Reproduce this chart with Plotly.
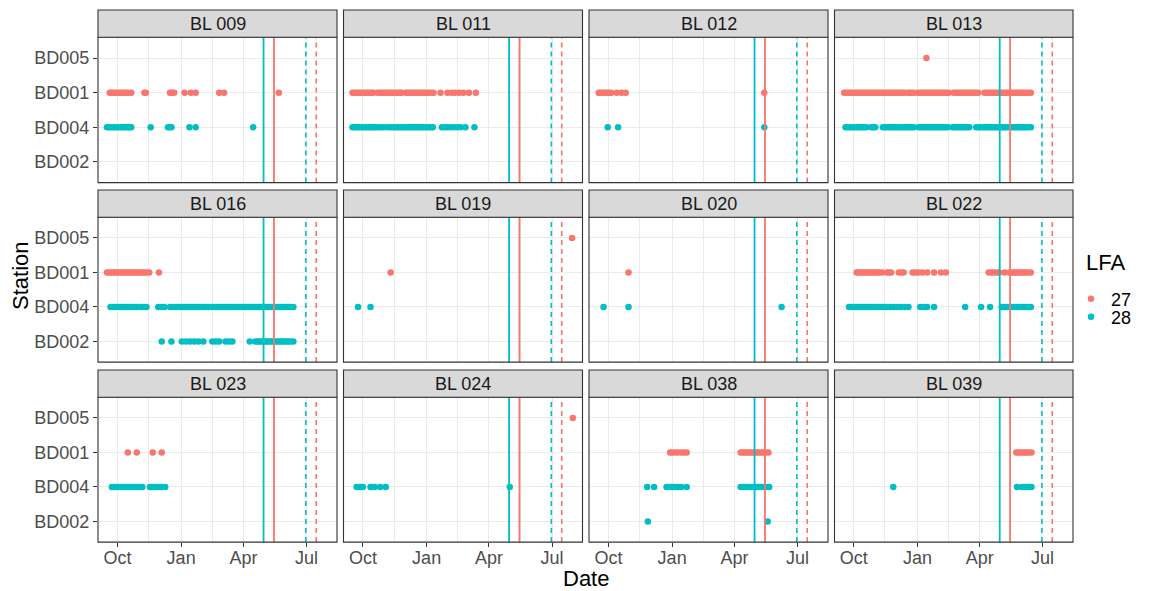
import plotly.graph_objects as go

W, H = 1152, 591
RED = "#F8766D"
TEAL = "#00BFC4"
FONT = "Liberation Sans, Arial, Helvetica, sans-serif"

panels = ["BL 009", "BL 011", "BL 012", "BL 013",
          "BL 016", "BL 019", "BL 020", "BL 022",
          "BL 023", "BL 024", "BL 038", "BL 039"]
stations = ["BD002", "BD004", "BD001", "BD005"]   # bottom -> top
lfa_levels = ["27", "28"]
lfa_colors = {"27": RED, "28": TEAL}

# season lines per LFA (solid = open, dashed = close)
season_lfa = ["28", "27"]
season_open = ["2021-04-30", "2021-05-15"]
season_close = ["2021-06-30", "2021-07-15"]

x_tick_vals = ["2020-10-01", "2021-01-01", "2021-04-01", "2021-07-01"]
x_tick_text = ["Oct", "Jan", "Apr", "Jul"]
x_minor_vals = ["2020-11-15", "2021-02-15", "2021-05-16"]
x_range = ["2020-09-03", "2021-08-14"]

# detection dates as MM-DD (Sep-Dec = 2020, Jan-Aug = 2021)
bl009_27_BD001 = ["09-20", "09-23", "09-26", "09-29", "10-02", "10-05", "10-08", "10-11", "10-14",
                  "10-17", "10-21", "11-09", "11-11", "12-16", "12-19", "12-22", "01-06", "01-15",
                  "01-22", "02-25", "03-04", "05-22"]
bl009_28_BD004 = ["09-16", "09-19", "09-22", "09-25", "09-28", "10-01", "10-04", "10-07", "10-10",
                  "10-13", "10-16", "10-19", "10-21", "11-18", "12-13", "12-16", "12-18", "01-13",
                  "01-22", "04-15"]

bl011_27_BD001 = ["09-16", "09-19", "09-22", "09-25", "09-28", "10-01", "10-04", "10-07", "10-10",
                  "10-13", "10-16", "10-22", "10-25", "10-28", "10-31", "11-03", "11-06", "11-09",
                  "11-12", "11-15", "11-18", "11-21", "11-24", "11-26", "12-02", "12-05", "12-08",
                  "12-11", "12-14", "12-17", "12-20", "12-23", "12-26", "12-29", "01-01", "01-04",
                  "01-07", "01-11", "01-21", "01-31", "02-06", "02-11", "02-17", "02-23", "03-03",
                  "03-13"]
bl011_28_BD004 = ["09-16", "09-19", "09-22", "09-25", "09-28", "10-01", "10-04", "10-07", "10-10",
                  "10-13", "10-16", "10-18", "10-22", "10-26", "10-30", "11-04", "11-09", "11-12",
                  "11-15", "11-18", "11-21", "11-24", "11-27", "11-30", "12-03", "12-06", "12-09",
                  "12-12", "12-15", "12-18", "12-21", "12-24", "12-27", "12-30", "01-02", "01-05",
                  "01-08", "01-10", "01-23", "01-27", "01-31", "02-04", "02-09", "02-14", "02-19",
                  "02-26", "03-11"]

bl012_27_BD001 = ["09-17", "09-20", "09-23", "09-26", "09-29", "10-02", "10-05", "10-13", "10-20",
                  "10-26", "05-14"]
bl012_28_BD004 = ["09-30", "10-15", "05-14"]

bl013_27_BD005 = ["01-14"]
bl013_27_BD001 = ["09-17", "09-20", "09-23", "09-26", "09-29", "10-02", "10-05", "10-08", "10-11",
                  "10-14", "10-17", "10-20", "10-23", "10-26", "10-29", "11-01", "11-04", "11-07",
                  "11-10", "11-13", "11-16", "11-19", "11-22", "11-25", "11-28", "12-01", "12-04",
                  "12-07", "12-10", "12-13", "12-18", "12-21", "12-24", "12-27", "01-01", "01-04",
                  "01-07", "01-10", "01-13", "01-16", "01-19", "01-22", "01-25", "01-28", "01-31",
                  "02-03", "02-06", "02-09", "02-12", "02-15", "02-22", "02-25", "02-28", "03-03",
                  "03-06", "03-09", "03-12", "03-15", "03-18", "03-21", "03-24", "03-27", "03-30",
                  "04-08", "04-11", "04-14", "04-17", "04-20", "04-23", "04-26", "04-29", "05-02",
                  "05-05", "05-08", "05-11", "05-14", "05-17", "05-20", "05-23", "05-26", "05-29",
                  "06-01", "06-04", "06-07", "06-10", "06-14"]
bl013_28_BD004 = ["09-19", "09-22", "09-25", "09-28", "10-01", "10-04", "10-07", "10-10", "10-13",
                  "10-16", "10-19", "10-26", "10-29", "11-01", "11-12", "11-15", "11-18", "11-21",
                  "11-24", "11-27", "11-30", "12-03", "12-06", "12-09", "12-12", "12-15", "12-18",
                  "12-21", "12-24", "12-27", "01-03", "01-06", "01-09", "01-12", "01-15", "01-18",
                  "01-21", "01-24", "01-27", "01-30", "02-02", "02-05", "02-08", "02-11", "02-14",
                  "02-21", "02-24", "02-27", "03-02", "03-05", "03-08", "03-11", "03-14", "03-17",
                  "03-27", "03-30", "04-02", "04-05", "04-08", "04-11", "04-14", "04-17", "04-20",
                  "04-23", "04-26", "04-29", "05-02", "05-05", "05-08", "05-11", "05-14", "05-17",
                  "05-20", "05-23", "05-26", "05-29", "06-01", "06-04", "06-07", "06-10", "06-14"]

bl016_27_BD001 = ["09-16", "09-19", "09-22", "09-25", "09-28", "10-01", "10-04", "10-07", "10-10",
                  "10-13", "10-16", "10-19", "10-22", "10-25", "10-28", "10-31", "11-03", "11-06",
                  "11-09", "11-12", "11-16", "11-30"]
bl016_28_BD004 = ["09-21", "09-24", "09-28", "10-04", "10-07", "10-10", "10-13", "10-16", "10-19",
                  "10-22", "10-25", "10-29", "11-04", "11-08", "11-12", "11-29", "12-04", "12-08",
                  "12-16", "12-20", "12-24", "12-27", "01-01", "01-04", "01-07", "01-10", "01-13",
                  "01-16", "01-19", "01-22", "01-25", "01-28", "02-01", "02-05", "02-10", "02-15",
                  "02-20", "02-23", "02-26", "03-01", "03-04", "03-07", "03-10", "03-13", "03-16",
                  "03-19", "03-22", "03-25", "03-28", "03-31", "04-03", "04-06", "04-09", "04-12",
                  "04-15", "04-18", "04-21", "04-24", "04-27", "04-30", "05-03", "05-06", "05-09",
                  "05-12", "05-15", "05-18", "05-21", "05-24", "05-27", "05-30", "06-02", "06-05",
                  "06-08", "06-12"]
bl016_28_BD002 = ["12-04", "12-18", "01-02", "01-08", "01-14", "01-20", "01-26", "02-02", "02-15",
                  "02-20", "02-25", "03-06", "03-11", "03-16", "04-10", "04-18", "04-21", "04-24",
                  "04-27", "04-30", "05-03", "05-06", "05-09", "05-12", "05-15", "05-18", "05-21",
                  "05-24", "05-27", "05-30", "06-02", "06-05", "06-08", "06-12"]

bl019_27_BD005 = ["07-30"]
bl019_27_BD001 = ["11-10"]
bl019_28_BD004 = ["09-24", "10-12"]

bl020_27_BD001 = ["10-30"]
bl020_28_BD004 = ["09-24", "10-30", "06-08"]

bl022_27_BD001 = ["10-05", "10-08", "10-11", "10-14", "10-17", "10-20", "10-23", "10-26", "10-29",
                  "11-01", "11-04", "11-07", "11-11", "11-18", "11-21", "11-24", "12-05", "12-09",
                  "12-12", "12-25", "12-29", "01-02", "01-08", "01-15", "01-25", "02-04", "02-11",
                  "04-14", "04-18", "04-22", "04-26", "04-29", "05-07", "05-14", "05-17", "05-20",
                  "05-23", "05-26", "05-29", "06-01", "06-04", "06-07", "06-10", "06-14"]
bl022_28_BD004 = ["09-24", "09-27", "09-30", "10-03", "10-06", "10-09", "10-12", "10-15", "10-18",
                  "10-21", "10-24", "10-27", "10-30", "11-02", "11-05", "11-08", "11-12", "11-15",
                  "11-18", "11-23", "11-28", "12-03", "12-08", "12-14", "12-19", "01-05", "01-10",
                  "01-15", "01-25", "03-11", "04-03", "04-16", "05-03", "05-06", "05-09", "05-12",
                  "05-15", "05-18", "05-21", "05-24", "05-27", "05-30", "06-02", "06-05", "06-08",
                  "06-11", "06-14"]

bl023_27_BD001 = ["10-16", "10-29", "11-21", "12-04"]
bl023_28_BD004 = ["09-23", "09-26", "09-29", "10-02", "10-05", "10-08", "10-11", "10-14", "10-17",
                  "10-20", "10-23", "10-26", "10-29", "11-01", "11-04", "11-06", "11-17", "11-20",
                  "11-23", "11-26", "11-29", "12-02", "12-05", "12-09"]

bl024_27_BD005 = ["07-31"]
bl024_28_BD004 = ["09-22", "09-25", "09-28", "10-01", "10-12", "10-15", "10-18", "10-26", "11-03",
                  "05-01"]

bl038_27_BD001 = ["12-29", "01-01", "01-05", "01-09", "01-14", "01-18", "01-22", "04-10", "04-13",
                  "04-16", "04-19", "04-22", "04-25", "04-28", "05-01", "05-04", "05-07", "05-10",
                  "05-13", "05-16", "05-20"]
bl038_28_BD004 = ["11-26", "12-06", "12-24", "12-27", "12-30", "01-02", "01-05", "01-09", "01-14",
                  "01-22", "04-10", "04-13", "04-16", "04-19", "04-22", "04-25", "04-28", "05-01",
                  "05-04", "05-07", "05-10", "05-13", "05-16", "05-21"]
bl038_28_BD002 = ["11-27", "05-19"]

bl039_27_BD001 = ["05-24", "05-27", "05-30", "06-02", "06-05", "06-08", "06-11", "06-15"]
bl039_28_BD004 = ["11-27", "05-25", "06-01", "06-04", "06-07", "06-10", "06-13", "06-15"]

detections = [
    ("BL 009", "27", "BD001", bl009_27_BD001), ("BL 009", "28", "BD004", bl009_28_BD004),
    ("BL 011", "27", "BD001", bl011_27_BD001), ("BL 011", "28", "BD004", bl011_28_BD004),
    ("BL 012", "27", "BD001", bl012_27_BD001), ("BL 012", "28", "BD004", bl012_28_BD004),
    ("BL 013", "27", "BD005", bl013_27_BD005), ("BL 013", "27", "BD001", bl013_27_BD001),
    ("BL 013", "28", "BD004", bl013_28_BD004),
    ("BL 016", "27", "BD001", bl016_27_BD001), ("BL 016", "28", "BD004", bl016_28_BD004),
    ("BL 016", "28", "BD002", bl016_28_BD002),
    ("BL 019", "27", "BD005", bl019_27_BD005), ("BL 019", "27", "BD001", bl019_27_BD001),
    ("BL 019", "28", "BD004", bl019_28_BD004),
    ("BL 020", "27", "BD001", bl020_27_BD001), ("BL 020", "28", "BD004", bl020_28_BD004),
    ("BL 022", "27", "BD001", bl022_27_BD001), ("BL 022", "28", "BD004", bl022_28_BD004),
    ("BL 023", "27", "BD001", bl023_27_BD001), ("BL 023", "28", "BD004", bl023_28_BD004),
    ("BL 024", "27", "BD005", bl024_27_BD005), ("BL 024", "28", "BD004", bl024_28_BD004),
    ("BL 038", "27", "BD001", bl038_27_BD001), ("BL 038", "28", "BD004", bl038_28_BD004),
    ("BL 038", "28", "BD002", bl038_28_BD002),
    ("BL 039", "27", "BD001", bl039_27_BD001), ("BL 039", "28", "BD004", bl039_28_BD004),
]


def full_date(md):
    return ("2020-" if int(md[:2]) >= 9 else "2021-") + md


# ---- geometry (pixels) ----
col_x = [(98.0, 337.0), (343.5, 582.5), (589.0, 828.0), (834.5, 1073.0)]
row_y = [(37.3, 182.6), (217.3, 362.1), (397.3, 542.1)]
strip_h = 27.3
TICK_SIZE = 18

fig = go.Figure()
shapes = []
annotations = []
layout = {}

legend_names = {"27": "legend", "28": "legend2"}
shown = set()
for panel, lfa, st, dates in detections:
    k = panels.index(panel) + 1
    xs = [full_date(d) for d in dates]
    fig.add_trace(go.Scatter(
        x=xs, y=[st] * len(xs), mode="markers",
        marker=dict(color=lfa_colors[lfa], size=6.5, line=dict(width=0)),
        name=lfa, legendgroup=lfa, showlegend=(lfa not in shown),
        legend=legend_names[lfa],
        xaxis="x" if k == 1 else f"x{k}", yaxis="y" if k == 1 else f"y{k}",
        hoverinfo="x+y+name",
    ))
    shown.add(lfa)

grid_col = "#EBEBEB"
for i, panel in enumerate(panels):
    k = i + 1
    r, c = divmod(i, 4)
    x0, x1 = col_x[c]
    y0, y1 = row_y[r]
    bottom = (r == 2)
    left = (c == 0)
    xa = dict(
        domain=[x0 / W, x1 / W], type="date", range=x_range,
        anchor="y" if k == 1 else f"y{k}",
        tickmode="array", tickvals=x_tick_vals, ticktext=x_tick_text,
        showgrid=True, gridcolor=grid_col, gridwidth=1.3,
        minor=dict(tickmode="array", tickvals=x_minor_vals, showgrid=True,
                   gridcolor=grid_col, gridwidth=0.7, ticks=""),
        zeroline=False, showline=False,
        ticks="outside" if bottom else "", ticklen=4, tickwidth=1, tickcolor="#333333",
        showticklabels=bottom, ticklabelstandoff=-5,
        tickfont=dict(family=FONT, size=TICK_SIZE, color="#4D4D4D"),
        fixedrange=True,
    )
    ya = dict(
        domain=[1 - y1 / H, 1 - y0 / H], type="category",
        categoryorder="array", categoryarray=stations, range=[-0.6, 3.6],
        anchor="x" if k == 1 else f"x{k}",
        showgrid=True, gridcolor=grid_col, gridwidth=1.3,
        zeroline=False, showline=False,
        ticks="outside" if left else "", ticklen=4, tickwidth=1, tickcolor="#333333",
        showticklabels=left,
        tickfont=dict(family=FONT, size=TICK_SIZE, color="#4D4D4D"),
        fixedrange=True,
    )
    layout["xaxis" if k == 1 else f"xaxis{k}"] = xa
    layout["yaxis" if k == 1 else f"yaxis{k}"] = ya

    xref = "x" if k == 1 else f"x{k}"
    yref = ("y" if k == 1 else f"y{k}") + " domain"
    for lfa, d_open, d_close in zip(season_lfa, season_open, season_close):
        col = lfa_colors[lfa]
        shapes.append(dict(type="line", xref=xref, yref=yref, x0=d_open, x1=d_open, y0=0, y1=1,
                           line=dict(color=col, width=1.8)))
        shapes.append(dict(type="line", xref=xref, yref=yref, x0=d_close, x1=d_close, y0=0, y1=1,
                           line=dict(color=col, width=1.6, dash="5px,4px")))

    # panel border
    shapes.append(dict(type="rect", xref="paper", yref="paper",
                       x0=x0 / W, x1=x1 / W, y0=1 - y1 / H, y1=1 - y0 / H,
                       line=dict(color="#333333", width=1.1), fillcolor="rgba(0,0,0,0)"))
    # strip
    shapes.append(dict(type="rect", xref="paper", yref="paper",
                       x0=x0 / W, x1=x1 / W, y0=1 - y0 / H, y1=1 - (y0 - strip_h) / H,
                       line=dict(color="#333333", width=1.1), fillcolor="#D9D9D9"))
    annotations.append(dict(text=panel, xref="paper", yref="paper",
                            x=(x0 + x1) / 2 / W, y=1 - (y0 - strip_h / 2) / H,
                            xanchor="center", yanchor="middle", showarrow=False,
                            font=dict(family=FONT, size=18, color="#1A1A1A")))

annotations.append(dict(text="Date", xref="paper", yref="paper", x=585.5 / W, y=1 - 578.5 / H,
                        xanchor="center", yanchor="middle", showarrow=False,
                        font=dict(family=FONT, size=22, color="black")))
annotations.append(dict(text="Station", xref="paper", yref="paper", x=20 / W, y=1 - 276 / H,
                        xanchor="center", yanchor="middle", showarrow=False, textangle=-90,
                        font=dict(family=FONT, size=22, color="black")))
annotations.append(dict(text="LFA", xref="paper", yref="paper", x=1084 / W, y=1 - 262 / H,
                        xanchor="left", yanchor="middle", showarrow=False,
                        font=dict(family=FONT, size=22, color="black")))

leg_common = dict(xanchor="left", yanchor="middle",
                  font=dict(family=FONT, size=18, color="black"),
                  bgcolor="rgba(0,0,0,0)", itemsizing="trace", itemwidth=30,
                  borderwidth=0)

fig.update_layout(
    width=W, height=H, autosize=False,
    margin=dict(l=0, r=0, t=0, b=0, pad=0),
    paper_bgcolor="white", plot_bgcolor="white",
    shapes=shapes, annotations=annotations,
    legend=dict(x=1071 / W, y=1 - 299 / H, **leg_common),
    legend2=dict(x=1071 / W, y=1 - 317 / H, **leg_common),
    **layout,
)

fig.write_html("out.html")
